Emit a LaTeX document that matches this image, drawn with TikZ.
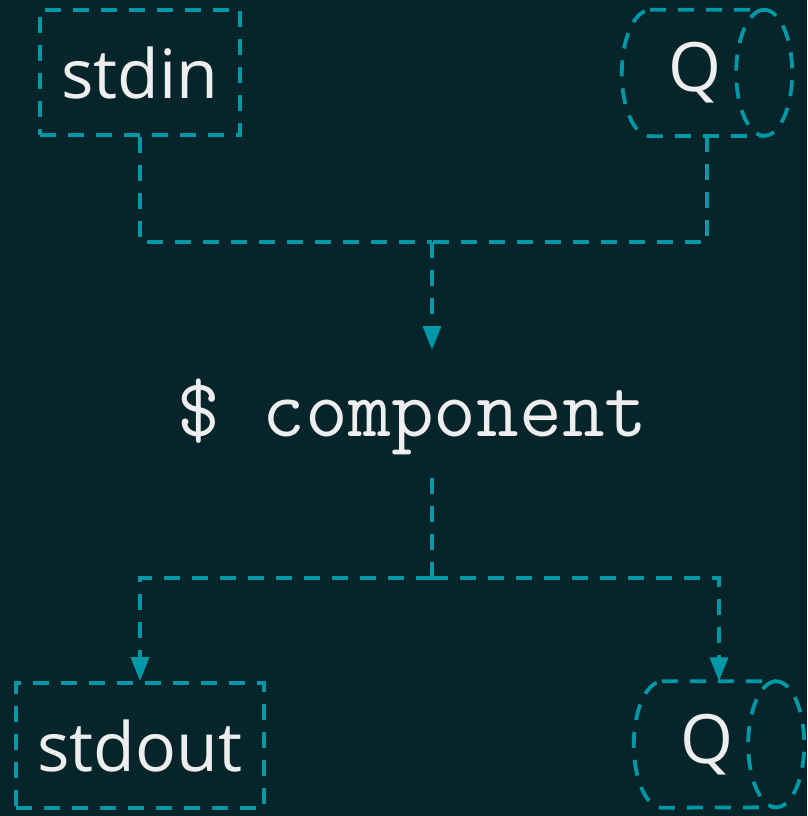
\documentclass[tikz,border=0pt]{standalone}
\usepackage{fontspec}
\setmainfont{Open Sans}
\usetikzlibrary{arrows.meta}
\definecolor{bgc}{HTML}{06252A}
\definecolor{teal}{HTML}{0097A7}
\definecolor{txt}{HTML}{EEEEEE}
\tikzset{
  x=1pt, y=1pt,
  dline/.style={draw=teal, line width=3.8pt, dash pattern=on 16pt off 12pt},
  arr/.style={dline, -{Triangle[length=24pt,width=18pt]}},
  lbl/.style={text=txt, font=\fontsize{68}{82}\selectfont, inner sep=0pt},
  boxnode/.style={lbl, dline, minimum height=125pt},
  qnode/.style={lbl, minimum width=170pt, minimum height=126pt},
  cmdnode/.style={text=txt, font=\ttfamily\fontsize{83}{100}\selectfont, inner sep=0pt, minimum height=128pt}
}
\begin{document}
\begin{tikzpicture}
\fill[bgc] (0,0) rectangle (807,-816);
\useasboundingbox (0,0) rectangle (807,-816);

\node[boxnode, minimum width=200pt] (stdin) at (140,-72.5) {stdin};
\node[qnode] (qtop) at (707,-73) {Q\rule{24pt}{0pt}};
\node[cmdnode] (comp) at (412.5,-417) {\$ component};
\node[boxnode, minimum width=248pt] (stdout) at (140,-745.5) {stdout};
\node[qnode] (qbot) at (719,-744.5) {Q\rule{24pt}{0pt}};

% cylinder outlines
\foreach \n in {qtop,qbot}{
  \draw[dline] ([xshift=28pt]\n.north west) -- ([xshift=-28pt]\n.north east)
    arc[start angle=90,end angle=-90,x radius=28pt,y radius=63pt]
    -- ([xshift=28pt]\n.south west)
    arc[start angle=270,end angle=90,x radius=28pt,y radius=63pt] -- cycle;
  \draw[dline] ([xshift=-28pt]\n.north east)
    arc[start angle=90,end angle=270,x radius=28pt,y radius=63pt];
}

\coordinate (j1) at (432,-242);
\coordinate (j2) at (432,-578);
\coordinate (ctop) at (432,-350);
\coordinate (cbot) at (432,-478);

\draw[dline] (stdin.south) |- (j1);
\draw[dline] (qtop.south) |- (j1);
\draw[arr] (j1) -- (ctop);
\draw[dline] (cbot) -- (j2);
\draw[arr] (j2) -| (stdout.north);
\draw[arr] (j2) -| (qbot.north);
\end{tikzpicture}
\end{document}
